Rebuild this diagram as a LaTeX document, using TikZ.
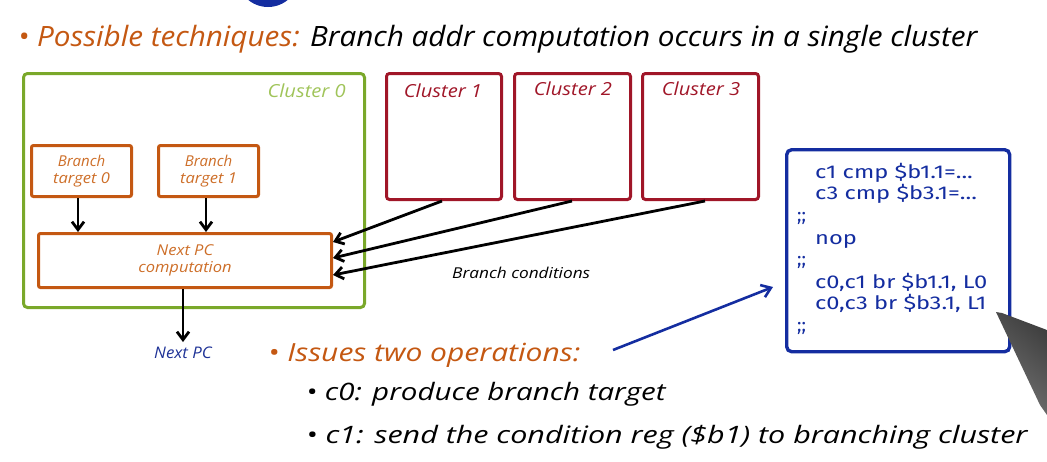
\documentclass[tikz,border=0pt]{standalone}
\usepackage{graphicx}
\usepackage{fontspec}
\setmainfont{Open Sans}
\newfontfamily\codefont{Fira Sans}
\usetikzlibrary{arrows.meta}
\definecolor{cgreen}{RGB}{122,168,42}
\definecolor{cgreenl}{RGB}{160,196,90}
\definecolor{corange}{RGB}{196,88,18}
\definecolor{ctorange}{RGB}{205,110,40}
\definecolor{cred}{RGB}{160,22,40}
\definecolor{cblue}{RGB}{30,50,150}
\definecolor{cnavy}{RGB}{20,45,160}
\newcommand{\hs}[2]{\scalebox{#1}[1]{#2}}
\tikzset{
  clbox/.style={draw=cred, line width=3pt, rounded corners=3pt},
  orbox/.style={draw=corange, line width=3pt, rounded corners=2pt, align=center, text=ctorange, font=\itshape\fontsize{15}{17}\selectfont, inner sep=0pt},
  conn/.style={-{Straight Barb[length=8pt,width=12pt]}, line width=2.8pt, black},
  cllabel/.style={text=cred, font=\itshape\fontsize{18}{20}\selectfont, inner sep=0pt, anchor=base},
}
\begin{document}
\begin{tikzpicture}[x=1pt,y=-1pt]
\useasboundingbox (0,0) rectangle (1047,461);
% partial blue disc at top
\begin{scope}
\clip (0,0) rectangle (1047,461);
\fill[cnavy] (268,-24) circle (31);
\end{scope}
% title
\node[anchor=base west, inner sep=0pt, font=\itshape\fontsize{28}{30}\selectfont] (title) at (18,46)
  {\hs{1.06}{\textcolor{corange}{\textbullet\ Possible techniques:} Branch addr computation occurs in a single cluster}};
% cluster 0
\node[draw=cgreen, line width=3pt, rounded corners=4pt, minimum width=341pt, minimum height=234pt, anchor=north west, inner sep=0pt] (c0) at (22,72) {};
\node[anchor=base east, text=cgreenl, font=\itshape\fontsize{18}{20}\selectfont, inner sep=0pt] (c0l) at (346,97) {\hs{1.12}{Cluster 0}};
\node[orbox, minimum width=100pt, minimum height=51pt, anchor=north west] (bt0) at (30,144) {Branch\\\hs{1.1}{target 0}};
\node[orbox, minimum width=100pt, minimum height=51pt, anchor=north west] (bt1) at (157,144) {Branch\\\hs{1.1}{target 1}};
\node[orbox, minimum width=293pt, minimum height=54pt, anchor=north west] (npc) at (37,232) {\hs{1.1}{Next PC}\\\hs{1.1}{computation}};
\draw[conn] (bt0.south -| 78,0) -- (npc.north -| 78,0);
\draw[conn] (bt1.south -| 206,0) -- (npc.north -| 206,0);
\node[text=cblue, font=\itshape\fontsize{16}{18}\selectfont, inner sep=0pt, anchor=base] (npcl) at (183,358) {\hs{1.05}{Next PC}};
\coordinate (npcend) at (183,342);
\draw[conn] (npc.south -| 183,0) -- (npcend);
% clusters 1-3
\node[clbox, minimum width=115pt, minimum height=126pt, anchor=north west, inner sep=0pt] (c1) at (385,72) {};
\node[clbox, minimum width=116pt, minimum height=126pt, anchor=north west, inner sep=0pt] (c2) at (513,72) {};
\node[clbox, minimum width=116pt, minimum height=126pt, anchor=north west, inner sep=0pt] (c3) at (641,72) {};
\node[cllabel] at (443,97) {\hs{1.12}{Cluster 1}};
\node[cllabel] at (573,95) {\hs{1.12}{Cluster 2}};
\node[cllabel] at (701,95) {\hs{1.12}{Cluster 3}};
\draw[conn] (c1.south -| 442,0) -- (npc.east |- 0,242);
\draw[conn] (c2.south -| 572,0) -- (npc.east |- 0,258);
\draw[conn] (c3.south -| 705,0) -- (npc.east |- 0,275);
\node[font=\itshape\fontsize{15}{17}\selectfont, inner sep=0pt, anchor=base west] (bc) at (452,278) {\hs{1.15}{Branch conditions}};
% code box
\node[draw=cnavy, line width=3.4pt, rounded corners=5pt, minimum width=223pt, minimum height=202pt, anchor=north west, inner sep=0pt] (code) at (785,148) {};
\begin{scope}[every node/.style={text=cnavy, font=\codefont\fontsize{18.5}{20}\selectfont, inner sep=0pt, anchor=base west}]
\node at (815,178) {\hs{1.28}{c1 cmp \$b1.1=...}};
\node at (815,199) {\hs{1.28}{c3 cmp \$b3.1=...}};
\node at (797,221) {;;};
\node at (815,244) {\hs{1.28}{nop}};
\node at (797,265) {;;};
\node at (815,288) {\hs{1.28}{c0,c1 br \$b1.1, L0}};
\node at (815,309) {\hs{1.28}{c0,c3 br \$b3.1, L1}};
\node at (797,331) {;;};
\end{scope}
% issues
\node[anchor=base west, inner sep=0pt, text=corange, font=\itshape\fontsize{25}{28}\selectfont] (iss) at (268,361) {\hs{1.2}{\textbullet\ Issues two operations:}};
\coordinate (issa) at (613,350);
\draw[cnavy, line width=2.6pt, -{Straight Barb[length=9pt,width=13pt]}] (issa) -- (773,287);
\node[anchor=base west, inner sep=0pt, font=\itshape\fontsize{24}{26}\selectfont] (op0) at (306,400) {\hs{1.23}{\textbullet\ c0: produce branch target}};
\node[anchor=base west, inner sep=0pt, font=\itshape\fontsize{24}{26}\selectfont] (op1) at (306,443) {\hs{1.27}{\textbullet\ c1: send the condition reg (\$b1) to branching cluster}};
% pen
\shade[top color=black!75, bottom color=black!55, shading angle=-40] (996,312) -- (1002,313) -- (1047,330) -- (1047,415) -- (1040,405) -- cycle;
\end{tikzpicture}
\end{document}
